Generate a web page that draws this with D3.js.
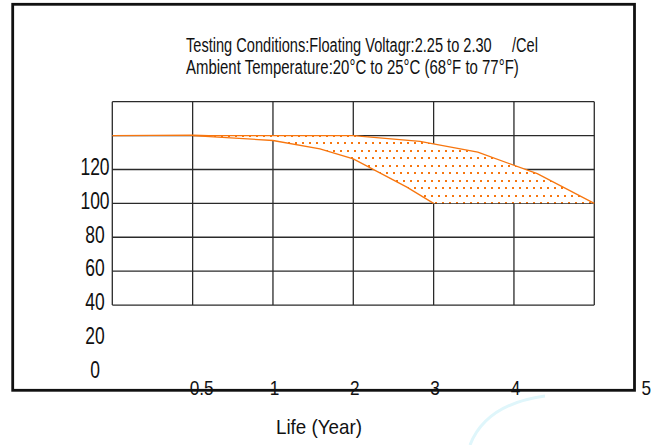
<!DOCTYPE html>
<html>
<head>
<meta charset="utf-8">
<script src="https://cdn.jsdelivr.net/npm/d3@7"></script>
<style>
  html, body { margin: 0; padding: 0; background: #fff; }
  svg { display: block; font-family: "Liberation Sans", Arial, sans-serif; }
</style>
</head>
<body>
<svg id="chart"></svg>
<script>
// grid columns are labelled in years, rows in capacity values
const gridYears = [0, 0.5, 1, 2, 3, 4, 5];
const gridValues = [40, 60, 80, 100, 120, 140, 160];
const yTickValues = [0, 20, 40, 60, 80, 100, 120];
const xTickLabels = ["0.5", "1", "2", "3", "4", "5"];
const xTickYears = [0.5, 1, 2, 3, 4, 5];

// upper edge of the life band
const upperYears = [0, 0.5, 0.6, 2, 2.83, 3.55, 4.29, 5];
const upperValues = [140, 140.3, 140, 140, 136.6, 130.2, 117.5, 100];
// lower edge of the life band
const lowerYears = [0.5, 1, 1.585, 2, 2.667, 3];
const lowerValues = [140, 137.1, 132.2, 126.2, 109.6, 100];
const bandFloor = 100;

const titleLines = [
    "Testing Conditions:Floating Voltagr:2.25 to 2.30\u00a0\u00a0\u00a0\u00a0\u00a0/Cel",
    "Ambient Temperature:20\u00b0C to 25\u00b0C (68\u00b0F to 77\u00b0F)"
];
const xTitle = "Life (Year)";

const width = 664, height = 445;
const orange = "#f7760f";

const svg = d3.select("#chart")
    .attr("width", width)
    .attr("height", height);

// x: each grid column has the same width, whatever its year step
const left = 112.3, colW = 80.33;
const xScale = d3.scaleLinear()
    .domain(gridYears)
    .range(gridYears.map((d, i) => left + i * colW));

const yScale = d3.scaleLinear()
    .domain([0, 160])
    .range([372.8, 101.7]);

// dotted fill pattern
const defs = svg.append("defs");
const pat = defs.append("pattern")
    .attr("id", "dots")
    .attr("patternUnits", "userSpaceOnUse")
    .attr("width", 7)
    .attr("height", 15)
    .attr("x", 0)
    .attr("y", 202)
    .attr("shape-rendering", "crispEdges");
pat.append("rect").attr("width", 7).attr("height", 15).attr("fill", "#fff");
pat.append("rect").attr("x", 1).attr("y", 0).attr("width", 2).attr("height", 2).attr("fill", orange);
pat.append("rect").attr("x", 4).attr("y", 8).attr("width", 2).attr("height", 2).attr("fill", orange);

// faint watermark arc at the bottom
svg.append("path")
    .attr("d", "M470,445 Q486,404 545,396")
    .attr("fill", "none")
    .attr("stroke", "#dff6fb")
    .attr("stroke-width", 3);

// grid
const grid = svg.append("g").attr("stroke", "#2a2a2a").attr("stroke-width", 1.3);
grid.selectAll(".hline")
    .data(gridValues)
    .join("line")
    .attr("x1", xScale(gridYears[0]))
    .attr("x2", xScale(gridYears[gridYears.length - 1]))
    .attr("y1", d => yScale(d))
    .attr("y2", d => yScale(d));
grid.selectAll(".vline")
    .data(gridYears)
    .join("line")
    .attr("x1", d => xScale(d))
    .attr("x2", d => xScale(d))
    .attr("y1", yScale(160))
    .attr("y2", yScale(40));

// band between the two curves
const line = d3.line()
    .x(d => xScale(d[0]))
    .y(d => yScale(d[1]));

const upperPts = upperYears.map((d, i) => [d, upperValues[i]]);
const lowerPts = lowerYears.map((d, i) => [d, lowerValues[i]]);
const bandPts = upperPts.filter(d => d[0] >= lowerYears[0])
    .concat([[lowerYears[lowerYears.length - 1], bandFloor]])
    .concat(lowerPts.slice().reverse());

svg.append("path")
    .attr("d", line(bandPts) + "Z")
    .attr("fill", "url(#dots)")
    .attr("stroke", "none");

svg.append("path")
    .datum(upperPts)
    .attr("fill", "none")
    .attr("stroke", orange)
    .attr("stroke-width", 1.3)
    .attr("d", line);

svg.append("path")
    .datum(lowerPts)
    .attr("fill", "none")
    .attr("stroke", orange)
    .attr("stroke-width", 1.3)
    .attr("d", line);

// y tick labels (condensed)
svg.append("g")
    .selectAll("text")
    .data(yTickValues)
    .join("text")
    .attr("transform", d => `translate(95,${yScale(d) - 3}) scale(0.76,1)`)
    .attr("text-anchor", "middle")
    .attr("dy", "0.36em")
    .attr("font-size", 23)
    .attr("fill", "#111")
    .text(d => d);

// x tick labels, not quite registered to the grid in the original
const xNudge = { "0.5": 9, "5": 52 };
svg.append("g")
    .selectAll("text")
    .data(xTickYears)
    .join("text")
    .attr("transform", (d, i) => `translate(${xScale(d) + (xNudge[xTickLabels[i]] || 1.5)},387.5) scale(0.82,1)`)
    .attr("text-anchor", "middle")
    .attr("dy", "0.36em")
    .attr("font-size", 21)
    .attr("fill", "#111")
    .text((d, i) => xTickLabels[i]);

// outer frame
svg.append("rect")
    .attr("x", 12.7)
    .attr("y", 4.3)
    .attr("width", 621.8)
    .attr("height", 386)
    .attr("fill", "none")
    .attr("stroke", "#111")
    .attr("stroke-width", 2.8);

// squeeze a text horizontally so it spans the given width
function squeezed(txt, x, y, size, w) {
    const t = svg.append("text")
        .attr("font-size", size)
        .attr("fill", "#111")
        .text(txt);
    const natural = t.node().getComputedTextLength();
    t.attr("transform", `translate(${x},${y}) scale(${w / natural},1)`);
    return t;
}

// test conditions
squeezed(titleLines[0], 186, 51.5, 21, 352);
squeezed(titleLines[1], 186, 73.5, 21, 333);

// axis title
squeezed(xTitle, 276, 434, 20, 86);
</script>
</body>
</html>
